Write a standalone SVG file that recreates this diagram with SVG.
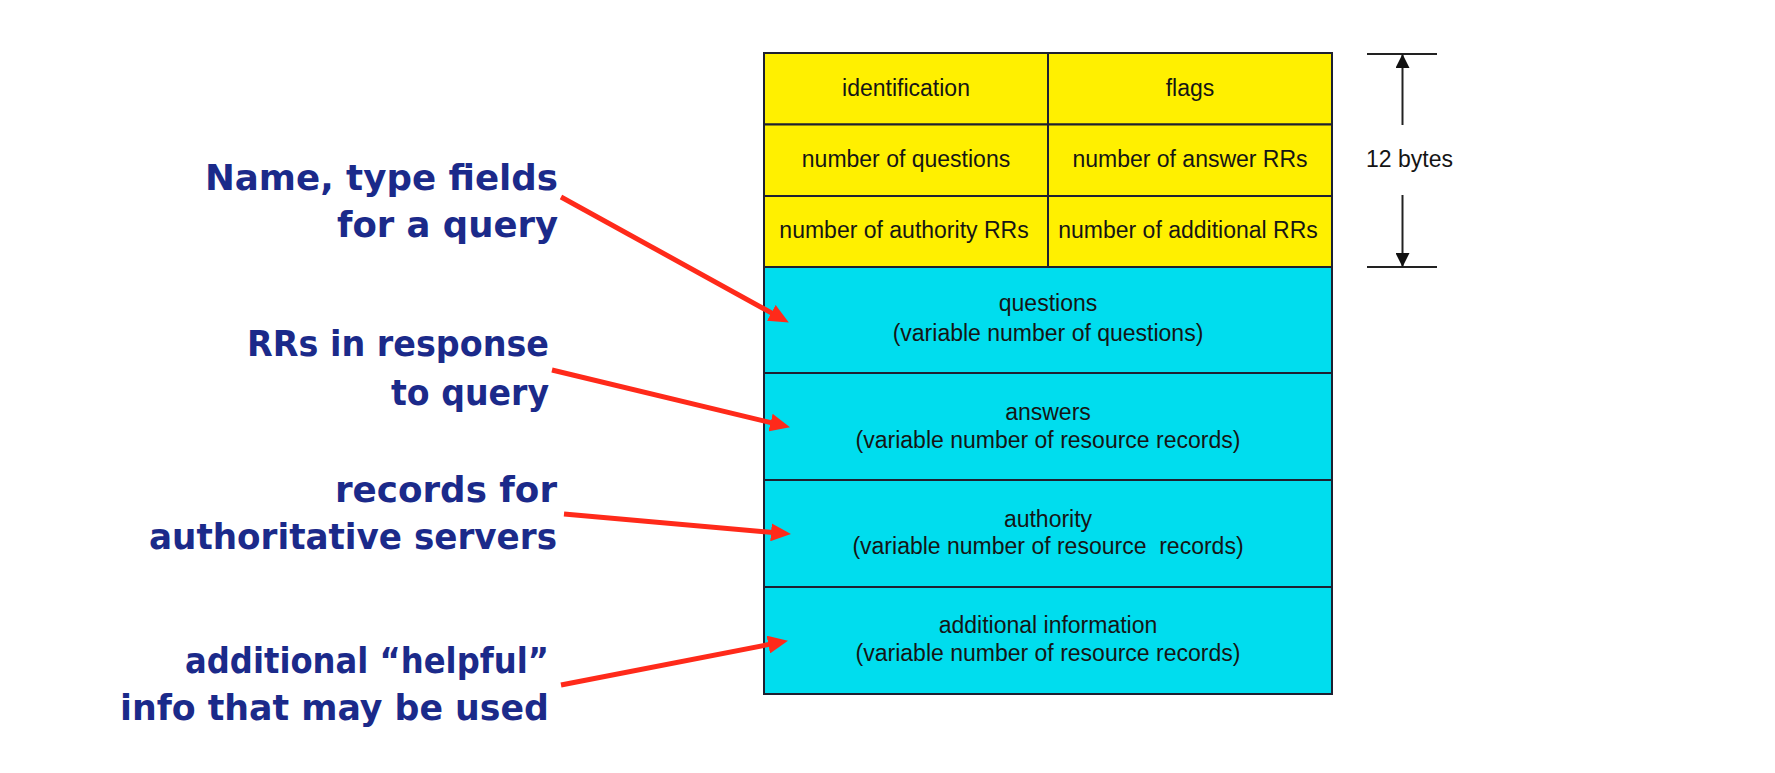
<svg xmlns="http://www.w3.org/2000/svg" width="1775" height="773" viewBox="0 0 1775 773">
<style>
.hdr{fill:#FFF000;stroke:#1e2030;stroke-width:2}
.sec{fill:#00DDEE;stroke:#1e2030;stroke-width:2}
.t{font-family:"Liberation Sans",Arial,sans-serif;font-size:23px;fill:#151515;text-anchor:middle}
.lbl{font-family:"DejaVu Sans",sans-serif;font-weight:bold;font-size:35px;fill:#1B2A8A;text-anchor:end}
.red{stroke:#FF2A1A;stroke-width:5;fill:none;marker-end:url(#ra)}
.dim{stroke:#222;stroke-width:2;fill:none}
</style>
<defs>
<marker id="ra" markerUnits="userSpaceOnUse" markerWidth="20" markerHeight="18" refX="13" refY="9" orient="auto">
<path d="M0,0 L20,9 L0,18 z" fill="#FF2A1A"/>
</marker>
<marker id="ba" markerUnits="userSpaceOnUse" markerWidth="14" markerHeight="14" refX="14" refY="7" orient="auto">
<path d="M0,0 L14,7 L0,14 z" fill="#111"/>
</marker>
</defs>
<rect width="1775" height="773" fill="#ffffff"/>

<g id="identification"><rect class="hdr" x="764" y="53" width="284" height="71.5"/><text class="t" x="906" y="96">identification</text></g>
<g id="flags"><rect class="hdr" x="1048" y="53" width="284" height="71.5"/><text class="t" x="1190" y="96">flags</text></g>
<g id="num-questions"><rect class="hdr" x="764" y="124.5" width="284" height="71.5"/><text class="t" x="906" y="167">number of questions</text></g>
<g id="num-answer"><rect class="hdr" x="1048" y="124.5" width="284" height="71.5"/><text class="t" x="1190" y="167">number of answer RRs</text></g>
<g id="num-authority"><rect class="hdr" x="764" y="196" width="284" height="71"/><text class="t" x="904" y="238">number of authority RRs</text></g>
<g id="num-additional"><rect class="hdr" x="1048" y="196" width="284" height="71"/><text class="t" x="1188" y="238">number of additional RRs</text></g>

<g id="questions"><rect class="sec" x="764" y="267" width="568" height="106"/><text class="t" x="1048" y="311">questions</text><text class="t" x="1048" y="341">(variable number of questions)</text></g>
<g id="answers"><rect class="sec" x="764" y="373" width="568" height="107"/><text class="t" x="1048" y="420">answers</text><text class="t" x="1048" y="448">(variable number of resource records)</text></g>
<g id="authority"><rect class="sec" x="764" y="480" width="568" height="107"/><text class="t" x="1048" y="527">authority</text><text class="t" x="1048" y="554" xml:space="preserve">(variable number of resource  records)</text></g>
<g id="additional"><rect class="sec" x="764" y="587" width="568" height="107"/><text class="t" x="1048" y="633">additional information</text><text class="t" x="1048" y="661">(variable number of resource records)</text></g>

<g id="size-dimension">
<line class="dim" x1="1367" y1="54" x2="1437" y2="54"/>
<line class="dim" x1="1367" y1="267" x2="1437" y2="267"/>
<line class="dim" x1="1402.5" y1="125" x2="1402.5" y2="54" marker-end="url(#ba)"/>
<line class="dim" x1="1402.5" y1="195" x2="1402.5" y2="267" marker-end="url(#ba)"/>
<text class="t" x="1366" y="167" style="text-anchor:start">12 bytes</text>
</g>

<g id="label-query">
<text class="lbl" x="558" y="190" textLength="353" lengthAdjust="spacingAndGlyphs">Name, type fields</text>
<text class="lbl" x="558" y="237" textLength="221" lengthAdjust="spacingAndGlyphs">for a query</text>
</g>
<g id="label-response">
<text class="lbl" x="549" y="356" textLength="302" lengthAdjust="spacingAndGlyphs">RRs in response</text>
<text class="lbl" x="549" y="405" textLength="158" lengthAdjust="spacingAndGlyphs">to query</text>
</g>
<g id="label-authoritative">
<text class="lbl" x="557" y="502" textLength="222" lengthAdjust="spacingAndGlyphs">records for</text>
<text class="lbl" x="557" y="549" textLength="408" lengthAdjust="spacingAndGlyphs">authoritative servers</text>
</g>
<g id="label-helpful">
<text class="lbl" x="549" y="673" textLength="364" lengthAdjust="spacingAndGlyphs">additional “helpful”</text>
<text class="lbl" x="549" y="720" textLength="429" lengthAdjust="spacingAndGlyphs">info that may be used</text>
</g>

<g id="connectors">
<line class="red" x1="561" y1="197" x2="782.7" y2="319.1"/>
<line class="red" x1="552" y1="370" x2="783.2" y2="425.6"/>
<line class="red" x1="564" y1="514" x2="784" y2="533.5"/>
<line class="red" x1="561" y1="685" x2="781.1" y2="642.1"/>
</g>
</svg>
